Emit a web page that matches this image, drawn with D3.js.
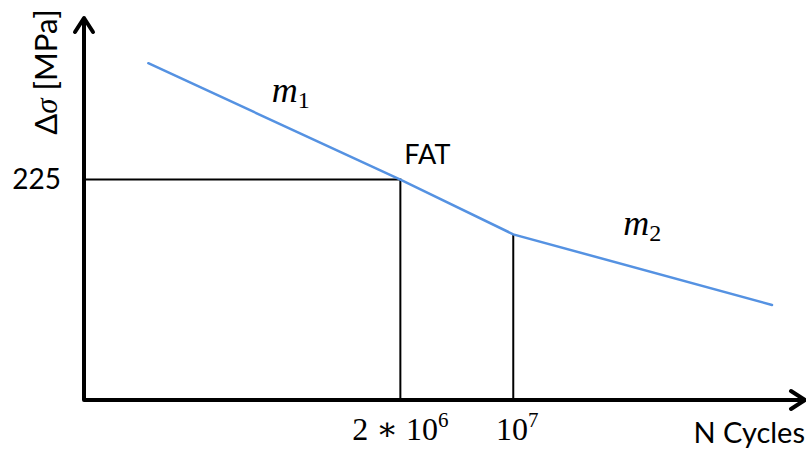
<!DOCTYPE html>
<html>
<head>
<meta charset="utf-8">
<script src="https://cdn.jsdelivr.net/npm/d3@7"></script>
<style>
  body { margin: 0; background: #fff; }
  .sans { font-family: Lato, "Liberation Sans", sans-serif; fill: #000; }
  .math { font-family: "Liberation Serif", "DejaVu Serif", serif; fill: #000; }
</style>
</head>
<body>
<svg id="chart" width="806" height="453"></svg>
<script>
// S-N (Wöhler) curve: number of cycles vs. stress range
const cycles = [5.5e4, 2e6, 1e7, 4e8];
const stressRange = [733, 225, 129, 63];

// Reference points marked with guide lines
const fatCycles = 2e6;
const fatStress = 225;
const kneeCycles = 1e7;
const kneeStress = 129;

// Axis tick values and their labels
const xTickValues = [2e6, 1e7];
const xTickBase = ["2 \u2217 10", "10"];
const xTickExp = ["6", "7"];
const yTickValues = [225];
const yTickLabels = ["225"];

// Slope labels: subscript and anchor point beside each segment
const slopeSubs = ["1", "2"];
const slopeCycles = [3.2e5, 4.8e7];
const slopeStress = [495, 128];

const svg = d3.select("#chart");
const originX = 84, originY = 400;

const x = d3.scaleLog().domain([2.2e4, 6.4e8]).range([originX, 805]);
const y = d3.scaleLog().domain([24, 1160]).range([originY, 18]);

// Guide lines from the axes to the FAT point and the knee point
svg.append("path")
  .attr("d", `M${x.range()[0]},${y(fatStress)} H${x(fatCycles)} V${originY}`)
  .attr("fill", "none").attr("stroke", "#000").attr("stroke-width", 2);
svg.append("line")
  .attr("x1", x(kneeCycles)).attr("x2", x(kneeCycles))
  .attr("y1", y(kneeStress)).attr("y2", originY)
  .attr("stroke", "#000").attr("stroke-width", 2);

// S-N curve
const pts = cycles.map((c, i) => [c, stressRange[i]]);
svg.append("path")
  .datum(pts)
  .attr("d", d3.line().x(d => x(d[0])).y(d => y(d[1])))
  .attr("fill", "none")
  .attr("stroke", "#5592e2")
  .attr("stroke-width", 2.5)
  .attr("stroke-linecap", "round");

// Axes with open arrowheads
const axisG = svg.append("g")
  .attr("fill", "none").attr("stroke", "#000").attr("stroke-width", 4)
  .attr("stroke-linecap", "round").attr("stroke-linejoin", "round");
const topY = y.range()[1], rightX = x.range()[1];
axisG.append("path").attr("d", `M${originX},${topY + 2} V${originY} H${rightX - 2}`).attr("stroke-linecap", "butt");
axisG.append("path").attr("d", `M${originX - 9},${topY + 14} L${originX},${topY} L${originX + 9},${topY + 14}`);
axisG.append("path").attr("d", `M${rightX - 14},${originY - 9} L${rightX},${originY} L${rightX - 14},${originY + 9}`);

// Y tick label
svg.selectAll(".ylab").data(yTickValues).join("text")
  .attr("class", "sans")
  .attr("x", 61).attr("y", d => y(d) + 9)
  .attr("text-anchor", "end")
  .attr("font-size", 28)
  .text((d, i) => yTickLabels[i]);

// X tick labels (base with superscript exponent), the power of ten sits over its tick
const xl = svg.selectAll(".xlab").data(xTickValues).join("text")
  .attr("class", "math")
  .attr("x", (d, i) => x(d) + (i === 0 ? 0 : 4)).attr("y", 440)
  .attr("text-anchor", "middle")
  .attr("font-size", 32);
xl.append("tspan").text((d, i) => xTickBase[i]);
xl.append("tspan").attr("dy", -13).attr("font-size", 21).text((d, i) => xTickExp[i]);

// Axis titles
const yt = svg.append("text").attr("class", "sans")
  .attr("transform", `translate(57,72) rotate(-90)`)
  .attr("text-anchor", "middle")
  .attr("font-size", 31);
yt.append("tspan").text("\u0394");
yt.append("tspan").attr("class", "math").attr("font-style", "italic").text("\u03c3");
yt.append("tspan").text(" [MPa]");

svg.append("text").attr("class", "sans")
  .attr("x", 805).attr("y", 443)
  .attr("text-anchor", "end")
  .attr("font-size", 29)
  .text("N Cycles");

// FAT label next to the FAT point
svg.append("text").attr("class", "sans")
  .attr("x", x(fatCycles) + 4).attr("y", y(fatStress) - 16)
  .attr("font-size", 27)
  .text("FAT");

// Slope labels m1, m2
const sl = svg.selectAll(".slope").data(slopeSubs).join("text")
  .attr("class", "math")
  .attr("x", (d, i) => x(slopeCycles[i]))
  .attr("y", (d, i) => y(slopeStress[i]))
  .attr("font-size", 36);
sl.append("tspan").attr("font-style", "italic").text("m");
sl.append("tspan").attr("dy", 6).attr("font-size", 24).text(d => d);
</script>
</body>
</html>
